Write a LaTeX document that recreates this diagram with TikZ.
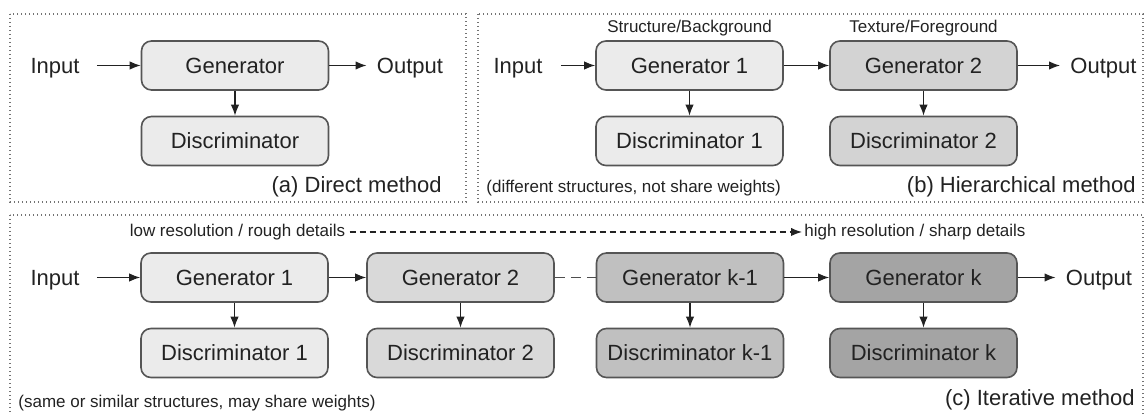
\documentclass[tikz,border=0pt]{standalone}
\usepackage{fontspec}
\setmainfont{Liberation Sans}
\usetikzlibrary{arrows.meta}
\definecolor{edgec}{HTML}{555555}
\definecolor{txt}{HTML}{222222}
\definecolor{fA}{HTML}{EBEBEB}
\definecolor{fB}{HTML}{D9D9D9}
\definecolor{fC}{HTML}{C0C0C0}
\definecolor{fD}{HTML}{A4A4A4}
\definecolor{fH}{HTML}{D3D3D3}
\begin{document}
\begin{tikzpicture}[x=0.5pt,y=-0.5pt,
 box/.style={draw=edgec, line width=0.8pt, rounded corners=5pt, minimum width=93.5pt, minimum height=24.5pt, inner sep=0pt, font=\fontsize{11}{13}\selectfont, text=txt, text height=7.9pt, text depth=0pt},
 lbl/.style={inner sep=0pt, font=\fontsize{11}{13}\selectfont, text=txt, text height=7.9pt, text depth=0pt},
 small/.style={inner sep=0pt, font=\fontsize{8.5}{10}\selectfont, text=txt},
 arr/.style={-{Latex[length=5.5pt,width=4.2pt]}, line width=0.65pt, draw=txt},
 panel/.style={draw=black!55, line width=0.6pt, dash pattern=on 0.6pt off 1.4pt},
]
\useasboundingbox (0,0) rectangle (1146,415);
\clip (0,0) rectangle (1146,415);
% panels
\draw[panel] (10,14) rectangle (466,202);
\draw[panel] (478,14) rectangle (1143,202);
\draw[panel] (10,215) rectangle (1143,430);

% ---------- (a) ----------
\node[lbl] (ain) at (55,65.5) {Input};
\node[box, fill=fA] (ag) at (235,65.5) {Generator};
\node[box, fill=fA] (ad) at (235,141) {Discriminator};
\node[lbl] (aout) at (410,65.5) {Output};
\node[lbl, anchor=east] (acap) at (442,185) {(a) Direct method};
\draw[arr, shorten <=8.5pt] (ain) -- (ag);
\draw[arr, shorten >=5pt] (ag) -- (aout);
\draw[arr] (ag) -- (ad);

% ---------- (b) ----------
\node[lbl] (bin) at (518,65.5) {Input};
\node[box, fill=fA] (bg1) at (689.5,65.5) {Generator 1};
\node[box, fill=fH] (bg2) at (923.5,65.5) {Generator 2};
\node[box, fill=fA] (bd1) at (689.5,141) {Discriminator 1};
\node[box, fill=fH] (bd2) at (923.5,141) {Discriminator 2};
\node[lbl] (bout) at (1103.5,65.5) {Output};
\node[small, anchor=south] (bs1) at ([yshift=2pt]bg1.north) {Structure/Background};
\node[small, anchor=south] (bs2) at ([yshift=2pt]bg2.north) {Texture/Foreground};
\node[small, anchor=west] (bnote) at (486,188) {(different structures, not share weights)};
\node[lbl, anchor=east] (bcap) at (1136,185) {(b) Hierarchical method};
\draw[arr, shorten <=9pt] (bin) -- (bg1);
\draw[arr] (bg1) -- (bg2);
\draw[arr, shorten >=5pt] (bg2) -- (bout);
\draw[arr] (bg1) -- (bd1);
\draw[arr] (bg2) -- (bd2);

% ---------- (c) ----------
\node[small] (low) at (237.5,232) {low resolution / rough details};
\node[small, anchor=west] (high) at (804,232) {high resolution / sharp details};
\draw[-{Latex[length=5.5pt,width=4.2pt]}, line width=0.6pt, draw=txt, dash pattern=on 3pt off 2pt, shorten <=2pt, shorten >=1pt] (low) -- (high);

\node[lbl] (cin) at (55,277.5) {Input};
\node[box, fill=fA] (cg1) at (234.5,277.5) {Generator 1};
\node[box, fill=fB] (cg2) at (460.5,277.5) {Generator 2};
\node[box, fill=fC] (cgk1) at (690,277.5) {Generator k-1};
\node[box, fill=fD] (cgk) at (923.5,277.5) {Generator k};
\node[box, fill=fA] (cd1) at (234.5,353) {Discriminator 1};
\node[box, fill=fB] (cd2) at (460.5,353) {Discriminator 2};
\node[box, fill=fC] (cdk1) at (690,353) {Discriminator k-1};
\node[box, fill=fD] (cdk) at (923.5,353) {Discriminator k};
\node[lbl] (cout) at (1099,277.5) {Output};
\node[small, anchor=west] (cnote) at (18,403) {(same or similar structures, may share weights)};
\node[lbl, anchor=east] (ccap) at (1135,398) {(c) Iterative method};
\draw[arr, shorten <=8.5pt] (cin) -- (cg1);
\draw[arr] (cg1) -- (cg2);
\draw[line width=0.6pt, draw=txt!80, dash pattern=on 5pt off 3pt] (cg2) -- (cgk1);
\draw[arr] (cgk1) -- (cgk);
\draw[arr, shorten >=5pt] (cgk) -- (cout);
\draw[arr] (cg1) -- (cd1);
\draw[arr] (cg2) -- (cd2);
\draw[arr] (cgk1) -- (cdk1);
\draw[arr] (cgk) -- (cdk);
\end{tikzpicture}
\end{document}
